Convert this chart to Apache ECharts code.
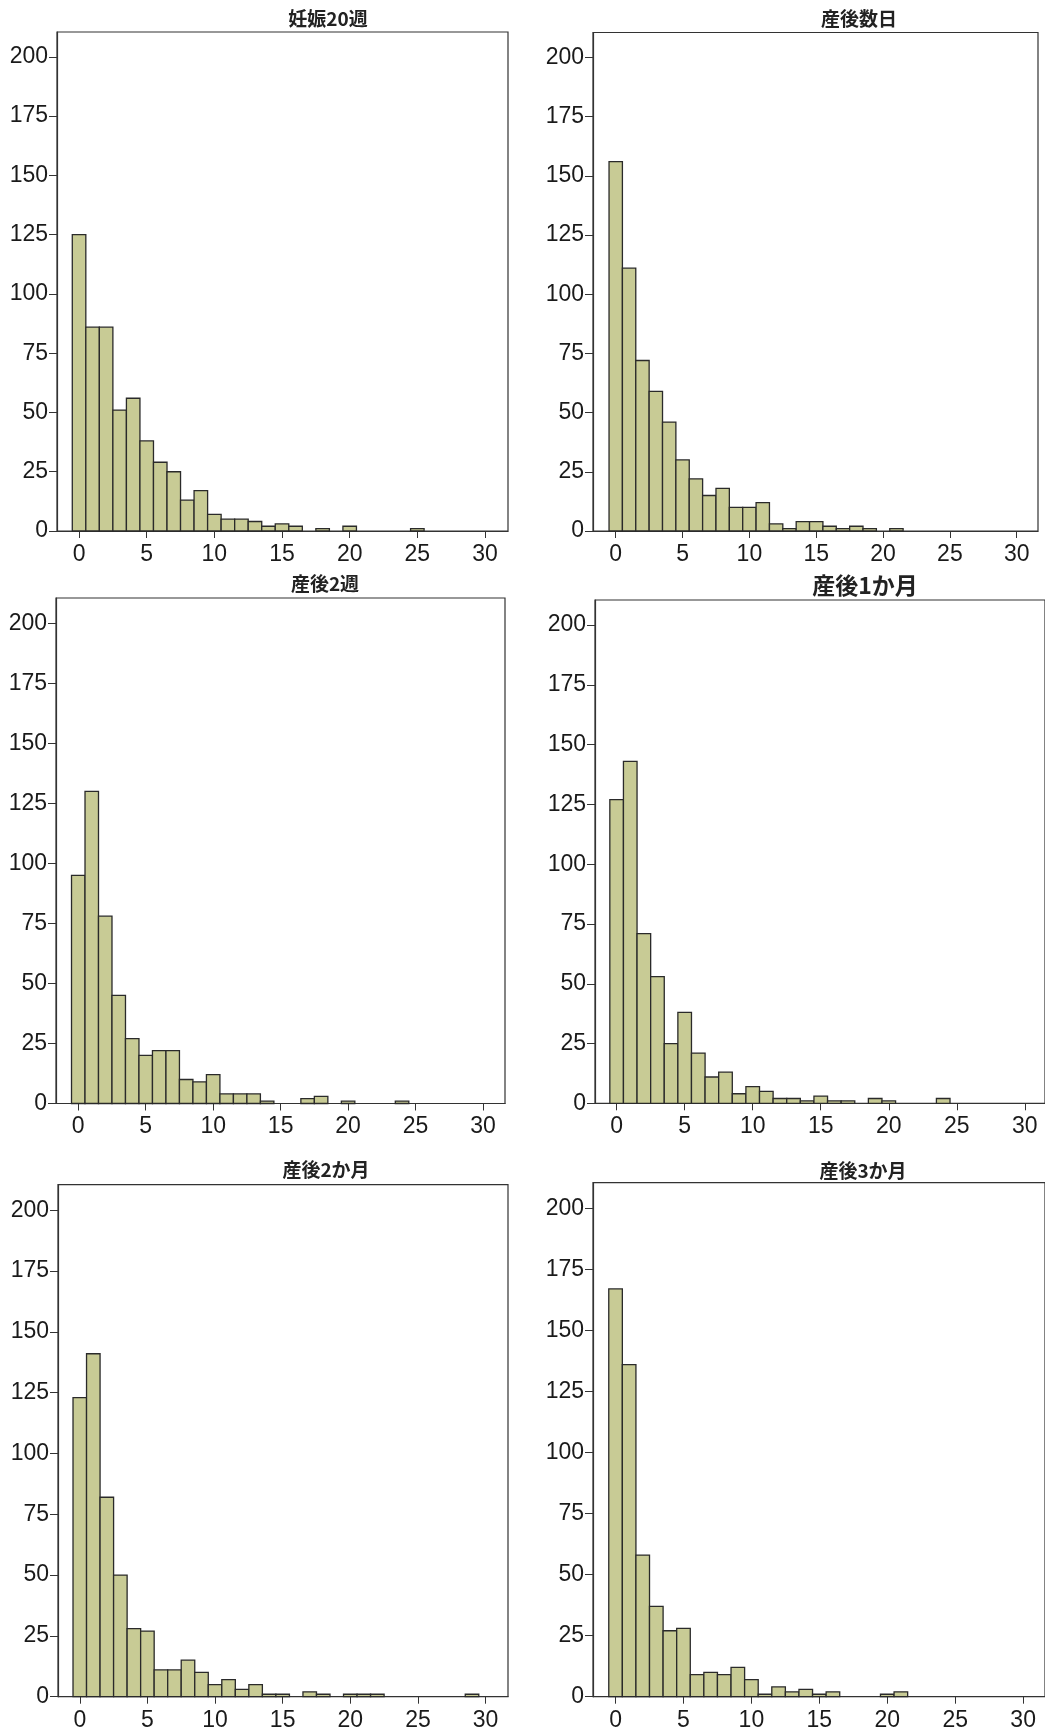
<!DOCTYPE html>
<html lang="ja">
<head>
<meta charset="utf-8">
<title>ヒストグラム</title>
<script src="https://cdn.jsdelivr.net/npm/echarts@6/dist/echarts.min.js"></script>
<style>
  html, body { margin: 0; padding: 0; background: #fff; }
  #chart { width: 1045px; height: 1732px; }
</style>
</head>
<body>
<div id="chart"></div>
<script>
// 得点 0〜30 の度数（各パネル）
const bins = Array.from({ length: 31 }, (_, i) => i)
const xTicks = [0, 5, 10, 15, 20, 25, 30]
const yTicks = [0, 25, 50, 75, 100, 125, 150, 175, 200]

const titles = ['妊娠20週', '産後数日', '産後2週', '産後1か月', '産後2か月', '産後3か月']

const week20 = [125, 86, 86, 51, 56, 38, 29, 25, 13, 17, 7, 5, 5, 4, 2, 3, 2, 0, 1, 0, 2, 0, 0, 0, 0, 1, 0, 0, 0, 0, 0]
const fewDays = [156, 111, 72, 59, 46, 30, 22, 15, 18, 10, 10, 12, 3, 1, 4, 4, 2, 1, 2, 1, 0, 1, 0, 0, 0, 0, 0, 0, 0, 0, 0]
const twoWeeks = [95, 130, 78, 45, 27, 20, 22, 22, 10, 9, 12, 4, 4, 4, 1, 0, 0, 2, 3, 0, 1, 0, 0, 0, 1, 0, 0, 0, 0, 0, 0]
const oneMonth = [127, 143, 71, 53, 25, 38, 21, 11, 13, 4, 7, 5, 2, 2, 1, 3, 1, 1, 0, 2, 1, 0, 0, 0, 2, 0, 0, 0, 0, 0, 0]
const twoMonths = [123, 141, 82, 50, 28, 27, 11, 11, 15, 10, 5, 7, 3, 5, 1, 1, 0, 2, 1, 0, 1, 1, 1, 0, 0, 0, 0, 0, 0, 1, 0]
const threeMonths = [167, 136, 58, 37, 27, 28, 9, 10, 9, 12, 7, 1, 4, 2, 3, 1, 2, 0, 0, 0, 1, 2, 0, 0, 0, 0, 0, 0, 0, 0, 0]

const panelData = [week20, fewDays, twoWeeks, oneMonth, twoMonths, threeMonths]

// パネル配置（px）とx軸の範囲
const layout = [
  { left: 57, top: 32, width: 451, height: 499, xMin: -1.63, xMax: 31.7, tx: 328, ty: 19, fs: 19 },
  { left: 593, top: 32.5, width: 445, height: 498.5, xMin: -1.7, xMax: 31.59, tx: 859, ty: 19, fs: 19 },
  { left: 56, top: 598, width: 449, height: 505.5, xMin: -1.65, xMax: 31.63, tx: 325, ty: 584, fs: 19 },
  { left: 595, top: 600, width: 452, height: 503.3, xMin: -1.59, xMax: 31.48, tx: 865, ty: 585, fs: 23 },
  { left: 58, top: 1184.7, width: 450, height: 512, xMin: -1.61, xMax: 31.66, tx: 326, ty: 1170, fs: 19 },
  { left: 593, top: 1182.7, width: 454, height: 514, xMin: -1.66, xMax: 31.61, tx: 863, ty: 1171, fs: 19 }
]

const BAR_FILL = '#c8cb95'
const BAR_EDGE = '#2a2a2a'
const AXIS_COLOR = '#333'
const LABEL_FONT = '"Liberation Sans", Arial, sans-serif'

const chart = echarts.init(document.getElementById('chart'), null, { renderer: 'canvas' })

const grid = layout.map(l => ({
  left: l.left,
  top: l.top,
  width: l.width,
  height: l.height,
  show: true,
  borderColor: AXIS_COLOR,
  borderWidth: 1.2,
  backgroundColor: 'transparent',
  containLabel: false
}))

const title = layout.map((l, i) => ({
  text: titles[i],
  left: l.tx,
  top: l.ty - (l.fs + 2) / 2,
  textAlign: 'center',
  padding: 0,
  textStyle: {
    fontFamily: '"Noto Sans CJK JP", sans-serif',
    fontWeight: 'bold',
    fontSize: l.fs,
    lineHeight: l.fs + 2,
    color: '#222'
  }
}))

const xAxis = layout.map((l, i) => ({
  type: 'value',
  gridIndex: i,
  min: l.xMin,
  max: l.xMax,
  axisLine: { show: true, onZero: false, lineStyle: { color: AXIS_COLOR, width: 1.2 } },
  axisTick: { show: true, length: 7, customValues: xTicks, lineStyle: { color: AXIS_COLOR } },
  axisLabel: {
    show: true,
    customValues: xTicks,
    margin: 12,
    fontSize: 23,
    fontFamily: LABEL_FONT,
    color: '#1a1a1a'
  },
  splitLine: { show: false }
}))

const yAxis = layout.map((l, i) => ({
  type: 'value',
  gridIndex: i,
  min: 0,
  max: 210.5,
  interval: 25,
  axisLine: { show: true, onZero: false, lineStyle: { color: AXIS_COLOR, width: 1.2 } },
  axisTick: { show: true, length: 8, customValues: yTicks, lineStyle: { color: AXIS_COLOR } },
  axisLabel: {
    show: true,
    customValues: yTicks,
    margin: 9,
    fontSize: 23,
    fontFamily: LABEL_FONT,
    color: '#1a1a1a'
  },
  splitLine: { show: false }
}))

const series = panelData.map((counts, i) => ({
  name: titles[i],
  type: 'custom',
  xAxisIndex: i,
  yAxisIndex: i,
  data: bins.map(b => [b, counts[b]]).filter(d => d[1] > 0),
  renderItem(params, api) {
    const x = api.value(0)
    const y = api.value(1)
    const p0 = api.coord([x - 0.5, y])
    const p1 = api.coord([x + 0.5, 0])
    return {
      type: 'rect',
      shape: { x: p0[0], y: p0[1], width: p1[0] - p0[0], height: p1[1] - p0[1] },
      style: { fill: BAR_FILL, stroke: BAR_EDGE, lineWidth: 1.3 }
    }
  },
  silent: true
}))

chart.setOption({
  animation: false,
  backgroundColor: '#fff',
  title,
  grid,
  xAxis,
  yAxis,
  series
})
</script>
</body>
</html>
